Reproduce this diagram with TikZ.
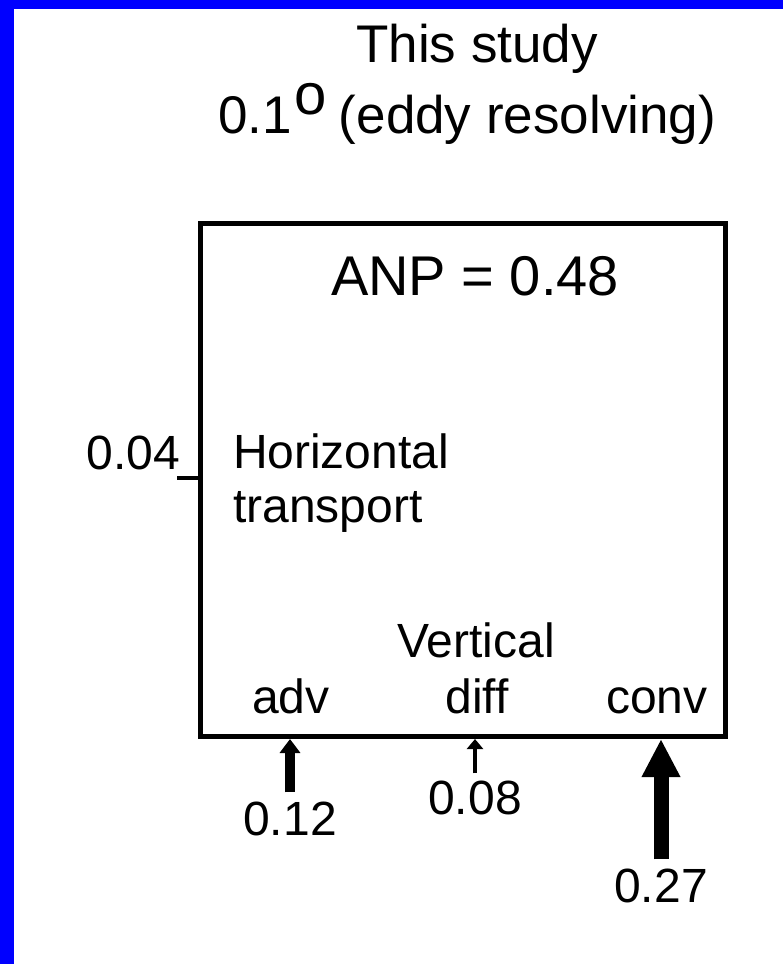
\documentclass[tikz,border=0pt]{standalone}
\usepackage{fontspec}
\setmainfont{Liberation Sans}
\usetikzlibrary{arrows.meta,calc}
\begin{document}
\begin{tikzpicture}[x=1pt,y=-1pt,
  lbl/.style={inner sep=0pt, outer sep=0pt, anchor=base, font=\fontsize{48}{48}\selectfont},
  ttl/.style={inner sep=0pt, outer sep=0pt, anchor=base, font=\fontsize{53}{53}\selectfont},
  anpstyle/.style={inner sep=0pt, outer sep=0pt, anchor=base, font=\fontsize{56}{56}\selectfont},
  bigbox/.style={draw=black, line width=5pt, inner sep=0pt, outer sep=0pt,
    minimum width=525pt, minimum height=513pt, anchor=north west},
  flux/.style={line width=#1, draw=black, shorten >=2.5pt}
]
\useasboundingbox (0,0) rectangle (783,964);
\fill[white] (0,0) rectangle (783,964);
\fill[blue] (0,0) rectangle (783,9);
\fill[blue] (0,0) rectangle (14,964);

\node[bigbox] (box) at (200,223.5) {};

\node[ttl] (t1) at (477,62) {This study};
\node[ttl] (t2) at (467,133) {0.1\hspace{3pt}\raisebox{19pt}{\fontsize{58}{58}\selectfont o}\hspace{12pt}(eddy resolving)};

\node[anpstyle] (anp) at (475,295) {ANP = 0.48};

\node[lbl, anchor=base west] (hz1) at (233,468) {Horizontal};
\node[lbl, anchor=base west] (hz2) at (233,522) {transport};
\node[lbl, anchor=base east] (l004) at (180,469) {0.04};
\coordinate (t04) at (177,478);
\draw[line width=4pt] (t04) -- (t04 -| box.west);

\node[lbl] (vert) at (476,657) {Vertical};
\node[lbl] (adv) at (291,713) {adv};
\node[lbl] (diff) at (477,713) {diff};
\node[lbl] (conv) at (657,713) {conv};

\node[lbl] (l012) at (290,835) {0.12};
\node[lbl] (l008) at (475,814) {0.08};
\node[lbl] (l027) at (661,902) {0.27};

\draw[flux=10pt, -{Triangle[width=20pt,length=14pt]}]
  ([yshift=9pt]l012.north) -- (l012.north |- box.south);
\draw[flux=4pt, -{Triangle[width=16pt,length=10pt]}]
  ([yshift=7pt]l008.north) -- (l008.north |- box.south);
\draw[flux=15pt, -{Triangle[width=36pt,length=38pt]}]
  ([yshift=9pt]l027.north) -- (l027.north |- box.south);
\end{tikzpicture}
\end{document}
